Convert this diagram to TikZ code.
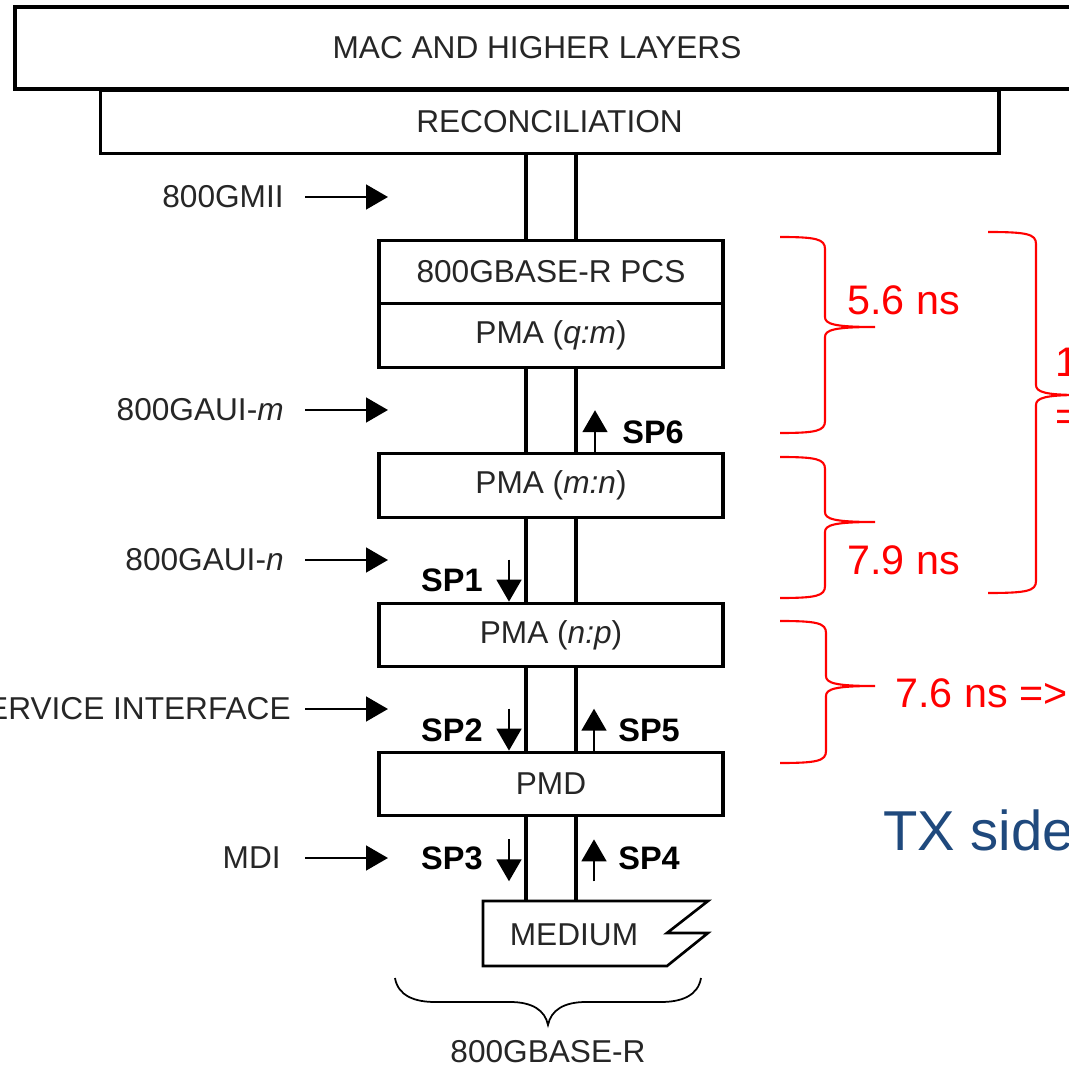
\documentclass[tikz,border=0pt]{standalone}
\usepackage{fontspec}
\setmainfont{Liberation Sans}
\usetikzlibrary{arrows.meta,positioning,calc}
\definecolor{txblue}{RGB}{31,73,125}

% red latency brace: x-left, x-spine, x-tip, y-top, y-tip, y-bottom
\newcommand{\latbrace}[6]{%
  \draw[lat] (#1,#4) .. controls (#2-9,#4) and (#2,#4+2) .. (#2,#4+12)
    -- (#2,#5-10) .. controls (#2,#5-3) and (#2+9,#5) .. (#3,#5)
    .. controls (#2+9,#5) and (#2,#5+3) .. (#2,#5+10)
    -- (#2,#6-12) .. controls (#2,#6-2) and (#2-9,#6) .. (#1,#6);}

\begin{document}
\begin{tikzpicture}[
  x=0.02cm, y=-0.02cm,
  font=\fontsize{18}{21}\selectfont,
  >={Triangle[length=12.5pt,width=14pt]},
  layer/.style={draw, line width=1.8pt, minimum height=1.27cm,
                inner sep=0pt, text=black!85},
  sublayer/.style={layer, minimum width=6.88cm},
  link/.style={line width=1.8pt},
  inarr/.style={->, line width=1.6pt},
  sparr/.style={->, line width=1.6pt},
  iflabel/.style={anchor=east, inner sep=0pt, text=black!85},
  splabel/.style={font=\fontsize{18.5}{21}\selectfont\bfseries, inner sep=0pt},
  lat/.style={red, line width=1.2pt},
  latlabel/.style={red, font=\fontsize{23.5}{28}\selectfont,
                   anchor=base west, inner sep=0pt},
]
\useasboundingbox (0,0) rectangle (1069,1067);
\clip (0,0) rectangle (1069,1067);

%% ── Layer stack ──────────────────────────────────────────────────────────────
\draw[line width=1.8pt] (15,7) rectangle (1120,89);
\node[text=black!85] (mac) at (537,48) {MAC AND HIGHER LAYERS};
\node[layer, minimum width=17.98cm] (rs) at (549.5,122) {RECONCILIATION};
\node[sublayer] (pcs) at (551,272) {800GBASE-R PCS};
\node[sublayer, below=-1.8pt of pcs] (qm) {PMA (\textit{q:m})};
\node[sublayer] (mn)  at (551,485.5) {PMA (\textit{m:n})};
\node[sublayer] (np)  at (551,635)   {PMA (\textit{n:p})};
\node[sublayer] (pmd) at (551,784)   {PMD};

%% ── Medium ───────────────────────────────────────────────────────────────────
\coordinate (medtop) at (551,901);
\draw[line width=1.5pt] (483,901) -- (708,901) -- (667,933) -- (708,933)
  -- (667,966) -- (483,966) -- cycle;
\node[text=black!85] (med) at (574,935) {MEDIUM};

%% ── Two-wire links between layers ────────────────────────────────────────────
\foreach \a/\b in {rs/pcs, qm/mn, mn/np, np/pmd}{
  \draw[link] ($(\b.north |- \a.south)+(-25,0)$) -- ($(\b.north)+(-25,0)$);
  \draw[link] ($(\b.north |- \a.south)+(25,0)$)  -- ($(\b.north)+(25,0)$);
}
\draw[link] ($(pmd.south)+(-25,0)$) -- ($(medtop)+(-25,0)$);
\draw[link] ($(pmd.south)+(25,0)$)  -- ($(medtop)+(25,0)$);

%% ── Interface labels ─────────────────────────────────────────────────────────
\node[iflabel] (gmii) at (284,197) {800GMII};
\node[iflabel] (auim) at (284,410) {800GAUI-\textit{m}};
\node[iflabel] (auin) at (284,560) {800GAUI-\textit{n}};
\node[iflabel] (psi)  at (291,709) {PMD SERVICE INTERFACE};
\node[iflabel] (mdi)  at (281,858) {MDI};
\foreach \n in {gmii,auim,auin,psi,mdi}
  \draw[inarr] (\n.east -| 305,0) -- ++(83,0);

%% ── Test points ──────────────────────────────────────────────────────────────
\draw[sparr] ($(mn.north)+(44,0)$)     -- ++(0,-42);
\draw[sparr] ($(np.north)+(-42,-42)$)  -- ++(0,42);
\draw[sparr] ($(pmd.north)+(-42,-42)$) -- ++(0,42);
\draw[sparr] ($(pmd.north)+(43,0)$)    -- ++(0,-42);
\draw[sparr] ($(pmd.south)+(-42,22)$)  -- ++(0,42);
\draw[sparr] ($(pmd.south)+(43,64)$)   -- ++(0,-42);
\node[splabel, anchor=west] (sp6) at (622,432) {SP6};
\node[splabel, anchor=east] (sp1) at (483,580) {SP1};
\node[splabel, anchor=east] (sp2) at (483,730) {SP2};
\node[splabel, anchor=west] (sp5) at (618,730) {SP5};
\node[splabel, anchor=east] (sp3) at (483,858) {SP3};
\node[splabel, anchor=west] (sp4) at (618,858) {SP4};

%% ── PHY brace ────────────────────────────────────────────────────────────────
\draw[line width=1pt] (395,978) .. controls (398,996) and (415,1002) .. (435,1002)
  -- (510,1002) .. controls (532,1002) and (545,1010) .. (548,1025)
  .. controls (551,1010) and (564,1002) .. (586,1002)
  -- (661,1002) .. controls (681,1002) and (698,996) .. (701,978);
\node[text=black!85] (phy) at (548,1052) {800GBASE-R};

%% ── Latency annotations ──────────────────────────────────────────────────────
\latbrace{780}{825}{875}{237}{327}{433}
\latbrace{780}{825}{875}{457}{522}{598}
\latbrace{780}{826}{875}{621}{686}{763}
\latbrace{988}{1036}{1080}{232}{395}{593}
\node[latlabel] (d1)  at (847,315)  {5.6 ns};
\node[latlabel] (d2)  at (847,575)  {7.9 ns};
\node[latlabel] (d3)  at (895,707)  {7.6 ns =>};
\node[latlabel] (d12) at (1055,377) {13.5 ns};
\node[latlabel] (d12b) at (1055,431) {=>};
\node[anchor=base west, inner sep=0pt, text=txblue,
      font=\fontsize{32}{38}\selectfont] (tx) at (883,850) {TX side};

\end{tikzpicture}
\end{document}
